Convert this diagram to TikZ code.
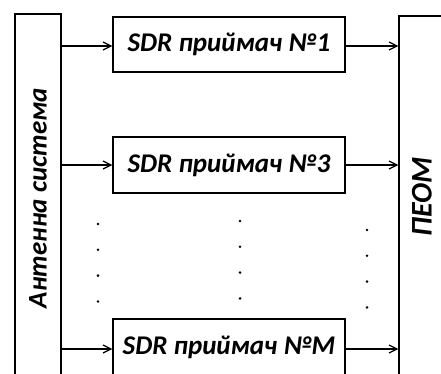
\documentclass[tikz,border=0pt]{standalone}
\usepackage{fontspec}
\setmainfont{Carlito}
\usetikzlibrary{arrows.meta}
\tikzset{
  blk/.style={draw, line width=1.3pt, inner sep=0pt, font=\fontsize{27}{27}\selectfont\bfseries\itshape},
  sdr/.style={blk, minimum width=232pt, minimum height=56pt},
  col/.style={blk, minimum width=46pt},
  >={Straight Barb[length=8pt,width=8pt,line width=1.2pt]}
}

\begin{document}
\begin{tikzpicture}[x=1pt, y=-1pt]
  \clip (0,0) rectangle (441,374);
  \node[col, minimum height=368pt] (ant) at (38,198) {\rotatebox{90}{Антенна система}};
  \node[col, minimum height=362pt, font=\fontsize{30}{30}\selectfont\bfseries\itshape] (pc) at (422,197) {\rotatebox{90}{ПЕОМ}};
  \node[sdr, minimum height=55pt] (s1) at (229,44.5) {SDR приймач №1};
  \node[sdr] (s3) at (229,165) {SDR приймач №3};
  \node[sdr] (sm) at (229,347) {SDR приймач №M};
  % links
  \foreach \n/\dy in {s1/1.5, s3/0, sm/2} {
    \draw[->, line width=1.3pt] ([yshift=-\dy pt]ant.east |- \n.west) -- ([yshift=-\dy pt]\n.west);
    \draw[->, line width=1.3pt] ([yshift=-\dy pt]\n.east) -- ([yshift=-\dy pt]\n.east -| pc.west);
  }
  % dots
  \foreach \x/\y in {98/224, 240/221, 367/230} {
    \foreach \k in {0,1,2,3}
      \fill (\x,\y+25.8*\k) circle (1.4pt);
  }
\end{tikzpicture}
\end{document}
